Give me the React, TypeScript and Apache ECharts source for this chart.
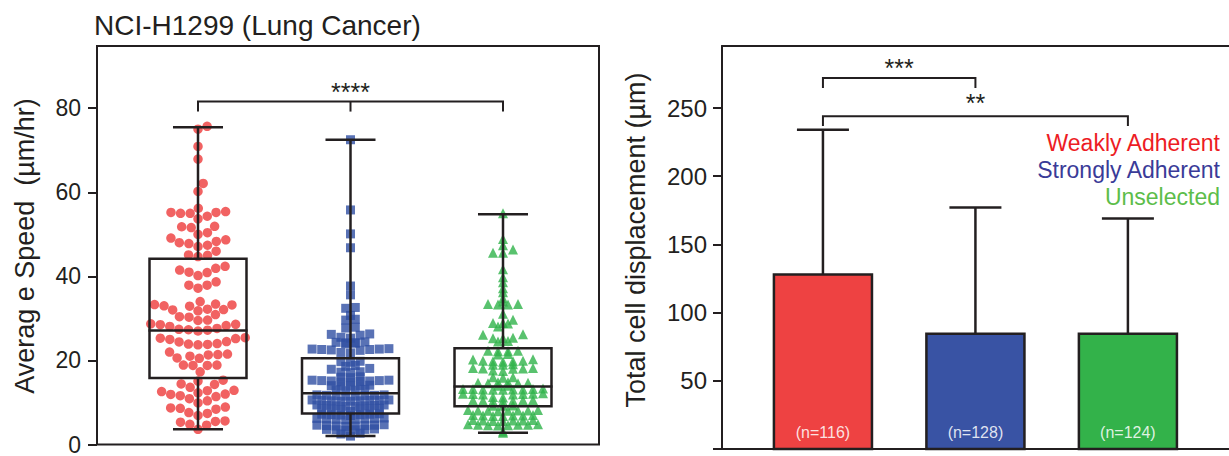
import React, { useEffect, useRef } from "react";
import * as echarts from "echarts";

// ---------- data ----------
const title = "NCI-H1299 (Lung Cancer)";
const speedAxisName = "Averag e Speed  (\u00b5m/hr)";
const dispAxisName = "Total cell displacement (\u00b5m)";
const groupNames = ["Weakly Adherent", "Strongly Adherent", "Unselected"];

const speedTicks = [0, 20, 40, 60, 80];
const dispTicks = [0, 50, 100, 150, 200, 250];
const dispLabels = [50, 100, 150, 200, 250];

// Average speed (um/hr), one value per cell
const weakSpeed = [
  75.7, 75.0, 70.9, 67.9, 62.1, 60.2, 56.2, 55.4, 55.2, 55.2, 55.0, 55.0, 54.3, 53.7, 51.9,
  51.8, 51.6, 50.4, 50.0, 49.1, 48.7, 48.3, 48.0, 47.8, 47.4, 47.1, 46.0, 45.1, 45.0, 44.7,
  42.4, 41.9, 41.5, 41.0, 40.9, 40.2, 38.7, 37.9, 37.9, 37.2, 34.0, 33.4, 33.3, 33.2, 33.0,
  32.9, 32.2, 32.1, 32.0, 31.8, 30.9, 30.4, 30.3, 29.6, 29.5, 28.7, 28.6, 28.5, 28.3, 28.1,
  27.6, 27.4, 27.3, 27.2, 27.0, 25.4, 25.3, 25.2, 25.0, 24.5, 24.4, 24.0, 23.9, 23.8, 23.7,
  22.0, 21.5, 21.4, 21.3, 21.0, 20.6, 20.5, 18.9, 18.9, 18.8, 18.8, 17.3,
  15.3, 15.1, 14.4, 14.3, 13.6, 12.9, 12.8, 12.6, 12.3, 12.0, 11.9, 11.6, 11.4, 10.9, 10.4,
  9.9, 8.9, 8.7, 8.6, 8.4, 7.6, 7.4, 6.9, 5.6, 5.5, 5.3, 4.8, 4.6, 3.6,
];
const strongSpeed = [
  72.5, 55.8, 50.1, 46.8, 37.7, 35.6, 32.6, 32.4, 30.7, 29.8, 29.6, 27.9, 27.7, 26.3, 26.2,
  26.0, 25.5, 25.3, 24.4, 24.3, 24.2, 24.2, 24.1, 24.0, 22.8, 22.7, 22.7, 22.6, 22.6, 22.5,
  22.4, 21.9, 21.8,
  19.8, 19.7, 19.6, 18.8, 18.6, 18.1, 17.9, 17.3, 17.2, 17.1, 16.1, 16.0, 15.9, 15.3, 15.3,
  15.2, 15.2, 15.1, 15.1, 15.0, 14.9, 14.9, 14.1, 14.0, 14.0, 13.9, 13.9, 13.1, 13.0, 12.9, 12.8,
  11.8, 11.8, 11.7, 11.7, 11.6, 11.6, 11.5, 11.5, 10.6, 10.6, 10.5, 10.5, 10.5, 10.4, 10.4,
  10.3, 10.3, 9.4, 9.4, 9.3, 9.3, 9.2, 9.2, 9.1, 9.1, 8.6, 8.5, 8.5, 8.4, 8.4, 8.3, 7.9,
  7.3, 7.2, 7.2, 7.1, 7.1, 7.0, 6.9, 6.3, 6.2, 6.2, 6.1, 6.1, 6.0, 6.0, 5.9, 4.7, 4.6, 4.6,
  4.5, 4.5, 4.4, 4.4, 4.3, 3.7, 3.6, 3.6, 3.5, 3.5, 3.4, 2.7, 2.5, 2.0,
];
const unselectedSpeed = [
  55.0, 48.9, 47.4, 46.4, 45.6, 45.6, 41.7, 39.8, 38.6, 37.2, 36.2, 34.8, 34.0, 33.4, 33.4,
  33.3, 33.3, 31.1, 29.7, 28.9, 28.9, 28.8, 28.1, 26.2, 26.1, 25.4, 25.3, 25.3, 24.6, 24.5,
  22.3, 22.3, 22.2, 22.2, 21.5, 21.4, 20.3, 20.2, 19.9, 19.9, 19.8, 19.8, 19.7, 19.1, 19.0,
  19.0, 18.2, 18.2, 18.1, 18.1, 18.0, 17.6, 17.5, 16.0, 16.0, 15.9, 14.8, 14.8, 14.7, 14.7,
  14.6, 14.6, 14.0, 14.0,
  13.3, 13.2, 13.2, 13.2, 13.1, 13.1, 13.1, 13.0, 13.0, 12.2, 12.1, 12.1, 12.0, 12.0, 11.9,
  11.9, 11.3, 11.2, 10.6, 10.5, 10.5, 10.4, 10.4, 10.3, 10.3, 9.3, 9.2, 9.2,
  8.2, 8.2, 8.1, 8.1, 8.1, 8.0, 8.0, 7.9, 7.0, 7.0, 6.9, 6.9, 6.9, 6.8, 6.8, 5.8, 5.8, 5.7,
  5.7, 5.7, 5.6, 5.6, 4.8, 4.8, 4.7, 4.7, 4.7, 4.6, 4.6, 4.5, 3.1, 2.8,
];

// box summary: [min, Q1, median, Q3, max]
const weakBox = [3.6, 15.8, 27.1, 44.2, 75.5];
const strongBox = [2.0, 7.4, 12.2, 20.5, 72.5];
const unselectedBox = [2.8, 9.1, 13.8, 22.9, 54.8];

// significance bracket on speed panel: [fromGroup, toGroup, barValue, footValue]
const speedBracket = [1, 3, 81.6, 79.2];
const speedStars = "****";

// displacement bars
const displacementMean = [128, 84.5, 84.5];
const displacementSD = [106, 92.5, 84.5];
const nLabels = ["(n=116)", "(n=128)", "(n=124)"];
const dispBrackets = [
  [1, 2, 272, 264.7],
  [1, 3, 244, 236.8],
];
const dispStars = ["***", "**"];

// ---------- style / layout ----------
const FONT = '"Liberation Sans", Arial, Helvetica, sans-serif';
const INK = "#231f20";
const dotColors = ["#ee3b3b", "#2f4fa2", "#2fb34a"];
const barColors = ["#ee4242", "#3953a4", "#33b24a"];
const legendColors = ["#ed1c24", "#3a3b98", "#5cbd4a"];

const LG = { left: 97, top: 46, width: 502, height: 403 };
const RG = { left: 722, top: 46, width: 507, height: 403 };
const SPEED_MAX = 94.8;
const DISP_MAX = 295.5;
const LX = [0.3377, 3.6295];
const RX = [0.338, 3.663];
const BOX_W = 0.636;
const CAP_W = 0.328;
const BAR_W = 0.643;
const ERR_CAP_W = 0.341;
const speedStarGap = [9];
const dispStarGap = [10, 13];

const xPx = LG.width / (LX[1] - LX[0]);
const yPx = LG.height / SPEED_MAX;

function greedySwarm(values: number[], diam: number): number[] {
  const order = values.map((_, i) => i).sort((a, b) => values[a] - values[b]);
  const placed: { x: number; y: number }[] = [];
  const out = new Array(values.length).fill(0);
  for (const i of order) {
    const y = values[i] * yPx;
    const near = placed.filter((p) => Math.abs(p.y - y) < diam);
    const cands = [0];
    for (const p of near) {
      const dx = Math.sqrt(diam * diam - (p.y - y) * (p.y - y));
      cands.push(p.x + dx, p.x - dx);
    }
    cands.sort((a, b) => Math.abs(a) - Math.abs(b));
    let xx = 0;
    for (const c of cands) {
      if (near.every((p) => (p.x - c) ** 2 + (p.y - y) ** 2 >= diam * diam - 1e-6)) {
        xx = c;
        break;
      }
    }
    placed.push({ x: xx, y });
    out[i] = xx;
  }
  return out;
}

function binSwarm(values: number[], rowPx: number, spacing: number): number[] {
  const bins = new Map<number, number[]>();
  values.forEach((v, i) => {
    const b = Math.round((v * yPx) / rowPx);
    if (!bins.has(b)) bins.set(b, []);
    bins.get(b)!.push(i);
  });
  const off = new Array(values.length).fill(0);
  bins.forEach((idx) => {
    idx.sort((a, b) => values[a] - values[b]);
    const n = idx.length;
    const slots = Array.from({ length: n }, (_, k) => (k - (n - 1) / 2) * spacing);
    slots.sort((a, b) => Math.abs(a) - Math.abs(b) || a - b);
    idx.forEach((id, k) => (off[id] = slots[k]));
  });
  return off;
}

function toPoints(values: number[], offsets: number[], group: number) {
  return values.map((v, i) => [group + offsets[i] / xPx, v]);
}

export default function App() {
  const ref = useRef<HTMLDivElement>(null);
  useEffect(() => {
    if (!ref.current) return;
    const chart = echarts.init(ref.current, null, { renderer: "svg" });

    const redPts = toPoints(weakSpeed, greedySwarm(weakSpeed, 9.6), 1);
    const bluePts = toPoints(strongSpeed, binSwarm(strongSpeed, 5, 9.6), 2);
    const greenPts = toPoints(unselectedSpeed, binSwarm(unselectedSpeed, 5, 10), 3);

    const lineStyle = { stroke: INK, lineWidth: 2.5, fill: "none" };
    const frame = { show: true, lineStyle: { color: INK, width: 2 } };

    const option: any = {
      animation: false,
      textStyle: { fontFamily: FONT },
      grid: [
        { ...LG, show: true, borderColor: INK, borderWidth: 2, backgroundColor: "transparent" },
        { ...RG, show: false },
      ],
      xAxis: [
        { gridIndex: 0, type: "value", min: LX[0], max: LX[1], show: false },
        {
          gridIndex: 1, type: "value", min: RX[0], max: RX[1], position: "bottom",
          axisLine: frame, axisTick: { show: false }, axisLabel: { show: false }, splitLine: { show: false },
        },
        {
          gridIndex: 1, type: "value", min: RX[0], max: RX[1], position: "top",
          axisLine: frame, axisTick: { show: false }, axisLabel: { show: false }, splitLine: { show: false },
        },
      ],
      yAxis: [
        {
          gridIndex: 0,
          type: "value",
          min: 0,
          max: SPEED_MAX,
          axisLine: { show: false },
          axisTick: { show: true, length: 9, customValues: speedTicks, lineStyle: { color: INK, width: 2 } },
          axisLabel: { customValues: speedTicks, fontSize: 23, color: INK, margin: 16, fontFamily: FONT },
          splitLine: { show: false },
        },
        {
          gridIndex: 1,
          type: "value",
          min: 0,
          max: DISP_MAX,
          axisLine: frame,
          axisTick: { show: true, length: 9, customValues: dispTicks, lineStyle: { color: INK, width: 2 } },
          axisLabel: { customValues: dispLabels, fontSize: 24, color: INK, margin: 15, fontFamily: FONT },
          splitLine: { show: false },
        },
      ],
      graphic: [
        {
          type: "text",
          x: 94,
          y: 25,
          style: { text: title, fontSize: 28, fontFamily: FONT, fill: INK, align: "left", verticalAlign: "middle" },
        },
        {
          type: "text",
          x: 25,
          y: 246,
          rotation: Math.PI / 2,
          style: { text: speedAxisName, fontSize: 27, fontFamily: FONT, fill: INK, align: "center", verticalAlign: "middle" },
        },
        {
          type: "text",
          x: 636,
          y: 240,
          rotation: Math.PI / 2,
          style: { text: dispAxisName, fontSize: 27, fontFamily: FONT, fill: INK, align: "center", verticalAlign: "middle" },
        },
        ...groupNames.map((name, i) => ({
          type: "text",
          x: 1220,
          y: 143 + i * 27,
          style: { text: name, fontSize: 23, fontFamily: FONT, fill: legendColors[i], align: "right", verticalAlign: "middle" },
        })),
      ],
      series: [
        {
          type: "scatter",
          xAxisIndex: 0,
          yAxisIndex: 0,
          symbol: "circle",
          symbolSize: 9.5,
          itemStyle: { color: dotColors[0] },
          data: redPts,
          z: 2,
        },
        {
          type: "scatter",
          xAxisIndex: 0,
          yAxisIndex: 0,
          symbol: "rect",
          symbolSize: 9,
          itemStyle: { color: dotColors[1] },
          data: bluePts,
          z: 2,
        },
        {
          type: "scatter",
          xAxisIndex: 0,
          yAxisIndex: 0,
          symbol: "triangle",
          symbolSize: 10,
          itemStyle: { color: dotColors[2] },
          data: greenPts,
          z: 2,
        },
        {
          type: "custom",
          xAxisIndex: 0,
          yAxisIndex: 0,
          z: 5,
          encode: { x: 0, y: [1, 2, 3, 4, 5] },
          data: [
            [1, ...weakBox],
            [2, ...strongBox],
            [3, ...unselectedBox],
          ],
          renderItem: (params: any, api: any) => {
            const x = api.value(0);
            const c = [1, 2, 3, 4, 5].map((k) => api.coord([x, api.value(k)]));
            const cx = c[0][0];
            const hw = api.size([BOX_W, 0])[0] / 2;
            const cw = api.size([CAP_W, 0])[0] / 2;
            return {
              type: "group",
              children: [
                { type: "rect", shape: { x: cx - hw, y: c[3][1], width: 2 * hw, height: c[1][1] - c[3][1] }, style: lineStyle },
                { type: "line", shape: { x1: cx - hw - 1, y1: c[2][1], x2: cx + hw + 1, y2: c[2][1] }, style: lineStyle },
                { type: "line", shape: { x1: cx, y1: c[3][1], x2: cx, y2: c[4][1] }, style: lineStyle },
                { type: "line", shape: { x1: cx, y1: c[1][1], x2: cx, y2: c[0][1] }, style: lineStyle },
                { type: "line", shape: { x1: cx - cw, y1: c[4][1], x2: cx + cw, y2: c[4][1] }, style: lineStyle },
                { type: "line", shape: { x1: cx - cw, y1: c[0][1], x2: cx + cw, y2: c[0][1] }, style: lineStyle },
              ],
            };
          },
        },
        {
          type: "custom",
          xAxisIndex: 0,
          yAxisIndex: 0,
          z: 5,
          encode: { x: [0, 1], y: [2, 3] },
          data: [speedBracket],
          renderItem: (params: any, api: any) => {
            const x1 = api.value(0), x2 = api.value(1), yt = api.value(2), yf = api.value(3);
            const a = api.coord([x1, yt]), b = api.coord([x2, yt]);
            const f = api.coord([x1, yf]);
            const m = api.coord([(x1 + x2) / 2, yt]);
            const st = { stroke: INK, lineWidth: 2, fill: "none" };
            return {
              type: "group",
              children: [
                { type: "polyline", shape: { points: [[a[0], f[1]], [a[0], a[1]], [b[0], b[1]], [b[0], f[1]]] }, style: st },
                { type: "line", shape: { x1: m[0], y1: m[1], x2: m[0], y2: f[1] }, style: st },
                {
                  type: "text",
                  x: m[0],
                  y: m[1] - speedStarGap[params.dataIndex],
                  style: { text: speedStars, fontSize: 25, fontFamily: FONT, fill: INK, align: "center", verticalAlign: "middle" },
                },
              ],
            };
          },
        },
        {
          type: "custom",
          xAxisIndex: 1,
          yAxisIndex: 1,
          z: 5,
          encode: { x: 0, y: 1 },
          data: displacementMean.map((m, i) => [i + 1, m, displacementSD[i]]),
          renderItem: (params: any, api: any) => {
            const i = params.dataIndex;
            const x = api.value(0), m = api.value(1), sd = api.value(2);
            const base = api.coord([x, 0]);
            const top = api.coord([x, m]);
            const err = api.coord([x, m + sd]);
            const hw = api.size([BAR_W, 0])[0] / 2;
            const cw = api.size([ERR_CAP_W, 0])[0] / 2;
            return {
              type: "group",
              children: [
                { type: "line", shape: { x1: top[0], y1: top[1], x2: top[0], y2: err[1] }, style: lineStyle },
                { type: "line", shape: { x1: top[0] - cw, y1: err[1], x2: top[0] + cw, y2: err[1] }, style: lineStyle },
                {
                  type: "rect",
                  shape: { x: top[0] - hw, y: top[1], width: 2 * hw, height: base[1] - top[1] },
                  style: { fill: barColors[i], stroke: INK, lineWidth: 2.5 },
                },
                {
                  type: "text",
                  x: top[0],
                  y: base[1] - 17,
                  style: { text: nLabels[i], fontSize: 16, fontFamily: FONT, fill: "rgba(255,255,255,0.85)", align: "center", verticalAlign: "middle" },
                },
              ],
            };
          },
        },
        {
          type: "custom",
          xAxisIndex: 1,
          yAxisIndex: 1,
          z: 5,
          encode: { x: [0, 1], y: [2, 3] },
          data: dispBrackets,
          renderItem: (params: any, api: any) => {
            const i = params.dataIndex;
            const x1 = api.value(0), x2 = api.value(1), yt = api.value(2), yf = api.value(3);
            const a = api.coord([x1, yt]), b = api.coord([x2, yt]);
            const f = api.coord([x1, yf]);
            const st = { stroke: INK, lineWidth: 2, fill: "none" };
            return {
              type: "group",
              children: [
                { type: "polyline", shape: { points: [[a[0], f[1]], [a[0], a[1]], [b[0], b[1]], [b[0], f[1]]] }, style: st },
                {
                  type: "text",
                  x: (a[0] + b[0]) / 2,
                  y: a[1] - dispStarGap[i],
                  style: { text: dispStars[i], fontSize: 25, fontFamily: FONT, fill: INK, align: "center", verticalAlign: "middle" },
                },
              ],
            };
          },
        },
      ],
    };
    chart.setOption(option);
    return () => chart.dispose();
  }, []);
  return (
    <div
      ref={ref}
      style={{ position: "absolute", left: 0, top: 0, width: 1229, height: 456, overflow: "hidden", background: "#fff" }}
    />
  );
}
